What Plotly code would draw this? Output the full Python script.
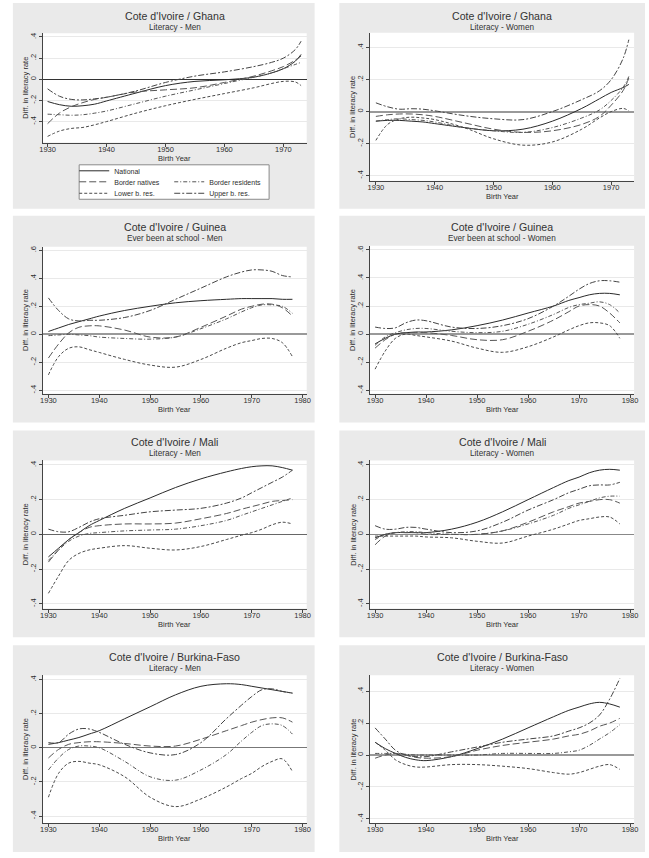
import plotly.graph_objects as go

W, H = 649, 858
FONT = "Liberation Sans, Arial, Helvetica, sans-serif"

# ---------------- data ----------------
SERIES = ["National", "Border natives", "Border residents", "Lower b. res.", "Upper b. res."]

YEARS_GHANA = [1930, 1932, 1934, 1936, 1938, 1940, 1945, 1950, 1955, 1960, 1965, 1968, 1970, 1972, 1973]
YEARS_LONG = [1930, 1932, 1934, 1936, 1938, 1940, 1945, 1950, 1955, 1960, 1965, 1968, 1970, 1972, 1974, 1976, 1978]

# Cote d'Ivoire / Ghana - Literacy - Men
gha_m_national = [-0.21, -0.24, -0.255, -0.25, -0.235, -0.205, -0.13, -0.06, -0.02, -0.005, 0.02, 0.06, 0.1, 0.17, 0.235]
gha_m_natives = [-0.42, -0.32, -0.26, -0.22, -0.19, -0.17, -0.12, -0.1, -0.08, -0.03, 0.03, 0.08, 0.12, 0.18, 0.22]
gha_m_residents = [-0.33, -0.335, -0.34, -0.335, -0.32, -0.3, -0.23, -0.16, -0.1, -0.04, 0.02, 0.06, 0.1, 0.14, 0.16]
gha_m_lower = [-0.54, -0.49, -0.465, -0.455, -0.43, -0.4, -0.32, -0.25, -0.19, -0.135, -0.08, -0.04, -0.02, -0.025, -0.06]
gha_m_upper = [-0.09, -0.16, -0.19, -0.195, -0.185, -0.17, -0.11, -0.03, 0.03, 0.07, 0.12, 0.16, 0.2, 0.28, 0.36]

# Cote d'Ivoire / Ghana - Literacy - Women
gha_w_national = [-0.06, -0.055, -0.055, -0.06, -0.065, -0.075, -0.1, -0.12, -0.11, -0.06, 0.02, 0.08, 0.12, 0.15, 0.17]
gha_w_natives = [-0.03, -0.02, -0.015, -0.015, -0.02, -0.03, -0.07, -0.11, -0.13, -0.12, -0.08, -0.03, 0.04, 0.13, 0.21]
gha_w_residents = [-0.06, -0.05, -0.045, -0.05, -0.055, -0.065, -0.1, -0.12, -0.13, -0.1, -0.04, 0.01, 0.07, 0.15, 0.22]
gha_w_lower = [-0.18, -0.08, -0.045, -0.035, -0.04, -0.05, -0.1, -0.17, -0.21, -0.19, -0.11, -0.04, 0.0, 0.02, 0.005]
gha_w_upper = [0.055, 0.03, 0.015, 0.018, 0.015, 0.005, -0.025, -0.045, -0.05, 0.0, 0.075, 0.13, 0.2, 0.33, 0.45]

# Cote d'Ivoire / Guinea - Ever been at school - Men
gui_m_national = [0.02, 0.045, 0.07, 0.09, 0.11, 0.13, 0.17, 0.2, 0.225, 0.24, 0.25, 0.255, 0.255, 0.255, 0.255, 0.25, 0.25]
gui_m_natives = [-0.17, -0.07, 0.01, 0.05, 0.06, 0.06, 0.03, -0.02, -0.02, 0.05, 0.13, 0.18, 0.2, 0.215, 0.215, 0.19, 0.13]
gui_m_residents = [-0.01, -0.005, 0.0, -0.005, -0.01, -0.02, -0.03, -0.035, -0.02, 0.04, 0.11, 0.16, 0.19, 0.21, 0.21, 0.2, 0.15]
gui_m_lower = [-0.29, -0.16, -0.1, -0.09, -0.11, -0.13, -0.18, -0.22, -0.235, -0.18, -0.1, -0.06, -0.045, -0.03, -0.03, -0.06, -0.16]
gui_m_upper = [0.26, 0.17, 0.11, 0.095, 0.1, 0.1, 0.12, 0.17, 0.25, 0.33, 0.41, 0.445, 0.46, 0.46, 0.45, 0.42, 0.41]

# Cote d'Ivoire / Guinea - Ever been at school - Women
gui_w_national = [-0.07, -0.03, 0.0, 0.01, 0.015, 0.015, 0.03, 0.06, 0.1, 0.15, 0.2, 0.24, 0.26, 0.28, 0.29, 0.29, 0.28]
gui_w_natives = [-0.1, -0.04, 0.0, 0.01, 0.01, 0.01, -0.01, -0.04, -0.04, 0.02, 0.1, 0.16, 0.2, 0.21, 0.2, 0.15, 0.08]
gui_w_residents = [-0.08, -0.02, 0.01, 0.03, 0.04, 0.04, 0.02, 0.01, 0.02, 0.07, 0.14, 0.19, 0.21, 0.22, 0.23, 0.21, 0.15]
gui_w_lower = [-0.25, -0.12, -0.03, 0.0, -0.01, -0.02, -0.05, -0.1, -0.13, -0.09, -0.02, 0.03, 0.06, 0.08, 0.08, 0.06, -0.03]
gui_w_upper = [0.05, 0.04, 0.045, 0.08, 0.1, 0.095, 0.05, 0.04, 0.06, 0.11, 0.2, 0.27, 0.32, 0.36, 0.38, 0.38, 0.37]

# Cote d'Ivoire / Mali - Literacy - Men
mli_m_national = [-0.13, -0.08, -0.03, 0.01, 0.05, 0.08, 0.15, 0.21, 0.27, 0.32, 0.36, 0.38, 0.39, 0.395, 0.395, 0.385, 0.37]
mli_m_natives = [-0.16, -0.09, -0.03, 0.01, 0.04, 0.05, 0.06, 0.06, 0.065, 0.09, 0.12, 0.145, 0.16, 0.175, 0.19, 0.195, 0.2]
mli_m_residents = [-0.15, -0.09, -0.04, -0.01, 0.005, 0.01, 0.02, 0.025, 0.03, 0.05, 0.08, 0.11, 0.13, 0.15, 0.17, 0.19, 0.21]
mli_m_lower = [-0.34, -0.24, -0.15, -0.11, -0.09, -0.08, -0.065, -0.08, -0.09, -0.07, -0.03, -0.005, 0.01, 0.03, 0.055, 0.07, 0.06]
mli_m_upper = [0.03, 0.015, 0.015, 0.04, 0.07, 0.09, 0.11, 0.13, 0.14, 0.15, 0.18, 0.21, 0.24, 0.27, 0.3, 0.33, 0.37]

# Cote d'Ivoire / Mali - Literacy - Women
mli_w_national = [-0.02, 0.0, 0.01, 0.01, 0.01, 0.01, 0.03, 0.07, 0.13, 0.2, 0.27, 0.31, 0.33, 0.355, 0.37, 0.375, 0.37]
mli_w_natives = [-0.06, -0.01, 0.01, 0.01, 0.01, 0.0, 0.0, 0.0, 0.02, 0.07, 0.13, 0.16, 0.18, 0.19, 0.2, 0.2, 0.18]
mli_w_residents = [-0.03, 0.0, 0.01, 0.015, 0.015, 0.01, 0.0, 0.0, 0.02, 0.06, 0.11, 0.15, 0.17, 0.19, 0.21, 0.22, 0.22]
mli_w_lower = [-0.01, -0.01, -0.01, -0.01, -0.01, -0.015, -0.02, -0.04, -0.05, -0.01, 0.03, 0.06, 0.08, 0.09, 0.1, 0.1, 0.06]
mli_w_upper = [0.05, 0.03, 0.03, 0.04, 0.04, 0.03, 0.01, 0.02, 0.07, 0.14, 0.2, 0.24, 0.26, 0.28, 0.285, 0.285, 0.3]

# Cote d'Ivoire / Burkina-Faso - Literacy - Men
bfa_m_national = [0.02, 0.03, 0.045, 0.06, 0.08, 0.1, 0.17, 0.24, 0.31, 0.36, 0.375, 0.37, 0.36, 0.35, 0.34, 0.33, 0.32]
bfa_m_natives = [-0.06, -0.01, 0.02, 0.03, 0.035, 0.035, 0.025, 0.01, 0.01, 0.05, 0.1, 0.13, 0.15, 0.165, 0.175, 0.175, 0.15]
bfa_m_residents = [-0.13, -0.06, -0.01, 0.01, 0.01, 0.0, -0.08, -0.17, -0.19, -0.13, -0.04, 0.04, 0.09, 0.13, 0.14, 0.13, 0.08]
bfa_m_lower = [-0.29, -0.15, -0.09, -0.08, -0.09, -0.1, -0.17, -0.29, -0.345, -0.3, -0.23, -0.18, -0.15, -0.11, -0.08, -0.065, -0.14]
bfa_m_upper = [0.03, 0.03, 0.08, 0.11, 0.11, 0.09, 0.02, -0.03, -0.04, 0.03, 0.17, 0.25, 0.3, 0.34, 0.345, 0.33, 0.32]

# Cote d'Ivoire / Burkina-Faso - Literacy - Women
bfa_w_national = [0.08, 0.04, 0.01, -0.015, -0.03, -0.035, -0.01, 0.04, 0.1, 0.17, 0.24, 0.28, 0.3, 0.32, 0.33, 0.32, 0.3]
bfa_w_natives = [-0.02, 0.0, 0.01, 0.0, -0.015, -0.02, -0.01, 0.03, 0.06, 0.08, 0.1, 0.12, 0.13, 0.15, 0.18, 0.2, 0.23]
bfa_w_residents = [0.01, 0.01, 0.01, 0.005, 0.0, 0.0, 0.0, 0.0, 0.01, 0.01, 0.01, 0.02, 0.03, 0.06, 0.1, 0.14, 0.19]
bfa_w_lower = [0.08, 0.03, -0.03, -0.06, -0.075, -0.075, -0.06, -0.06, -0.07, -0.085, -0.11, -0.12, -0.11, -0.09, -0.07, -0.06, -0.09]
bfa_w_upper = [0.17, 0.1, 0.03, 0.0, -0.01, -0.01, 0.02, 0.05, 0.08, 0.1, 0.12, 0.15, 0.17, 0.2, 0.25, 0.35, 0.48]

TITLES = ["Cote d'Ivoire / Ghana", "Cote d'Ivoire / Ghana",
          "Cote d'Ivoire / Guinea", "Cote d'Ivoire / Guinea",
          "Cote d'Ivoire / Mali", "Cote d'Ivoire / Mali",
          "Cote d'Ivoire / Burkina-Faso", "Cote d'Ivoire / Burkina-Faso"]
SUBTITLES = ["Literacy - Men", "Literacy - Women",
             "Ever been at school - Men", "Ever been at school - Women",
             "Literacy - Men", "Literacy - Women",
             "Literacy - Men", "Literacy - Women"]
PANEL_YEARS = [YEARS_GHANA, YEARS_GHANA] + [YEARS_LONG] * 6
PANEL_DATA = [
    [gha_m_national, gha_m_natives, gha_m_residents, gha_m_lower, gha_m_upper],
    [gha_w_national, gha_w_natives, gha_w_residents, gha_w_lower, gha_w_upper],
    [gui_m_national, gui_m_natives, gui_m_residents, gui_m_lower, gui_m_upper],
    [gui_w_national, gui_w_natives, gui_w_residents, gui_w_lower, gui_w_upper],
    [mli_m_national, mli_m_natives, mli_m_residents, mli_m_lower, mli_m_upper],
    [mli_w_national, mli_w_natives, mli_w_residents, mli_w_lower, mli_w_upper],
    [bfa_m_national, bfa_m_natives, bfa_m_residents, bfa_m_lower, bfa_m_upper],
    [bfa_w_national, bfa_w_natives, bfa_w_residents, bfa_w_lower, bfa_w_upper],
]
X_TICKS_GHANA = [1930, 1940, 1950, 1960, 1970]
X_TICKS_LONG = [1930, 1940, 1950, 1960, 1970, 1980]
Y_TICKS_4 = [-0.4, -0.2, 0, 0.2, 0.4]
Y_TICKS_6 = [-0.4, -0.2, 0, 0.2, 0.4, 0.6]
Y_LABELS = {-0.4: "-.4", -0.2: "-.2", 0: "0", 0.2: ".2", 0.4: ".4", 0.6: ".6"}

# ---------------- layout geometry (pixels) ----------------
GRAY_BOXES = [(10, 2, 315, 208), (340, 2, 649, 208),
              (10, 215, 315, 422), (340, 215, 649, 422),
              (10, 430, 315, 637), (340, 430, 649, 637),
              (10, 645, 315, 852), (340, 645, 649, 852)]
PLOT_BOXES = [(40, 32.3, 307, 141.7), (371, 31.7, 638, 180),
              (40, 246, 307, 393.3), (371, 245, 638, 393.3),
              (40, 460, 307, 608.3), (371, 460, 638, 608.3),
              (40, 675, 307, 823.3), (371, 675, 638, 823.3)]
TITLE_Y = [15, 15, 226.7, 226.7, 442, 442, 657, 657]
Y_RANGES = [[-0.598, 0.435], [-0.433, 0.494],
            [-0.426, 0.626], [-0.426, 0.63],
            [-0.428, 0.426], [-0.428, 0.426],
            [-0.443, 0.425], [-0.428, 0.50]]
X_RANGES = [[1929.15, 1973.95], [1929.0, 1973.9]] + [[1928.85, 1980.8], [1929.0, 1980.8]] * 3
ZERO_STYLE = [("#333333", 1), ("#999999", 1.6), ("#999999", 1.6), ("#999999", 1.6),
              ("#666666", 1), ("#888888", 1.3), ("#777777", 1.2), ("#999999", 1.6)]
DASHES = ["solid", "7px,3px", "4px,2px,1px,2px", "3px,2px", "6px,2px,2px,2px"]
LINE_COLORS = ["#2a2a2a", "#555555", "#555555", "#4a4a4a", "#444444"]
LEGEND_OF = ["legend", "legend2", "legend2", "legend3", "legend3"]
GRAY = "#eaeaea"
TEXT_DARK = "#2e2e2e"


def px_x(v):
    return v / W


def px_y(v):
    return 1 - v / H


fig = go.Figure()
shapes = []
annotations = []

for i in range(8):
    gx0, gy0, gx1, gy1 = GRAY_BOXES[i]
    shapes.append(dict(type="rect", xref="paper", yref="paper", layer="below",
                       x0=px_x(gx0), x1=px_x(gx1), y0=px_y(gy1), y1=px_y(gy0),
                       fillcolor=GRAY, line=dict(width=0)))

for i in range(8):
    sfx = "" if i == 0 else str(i + 1)
    x0, y0, x1, y1 = PLOT_BOXES[i]
    years = PANEL_YEARS[i]
    for k, name in enumerate(SERIES):
        fig.add_trace(go.Scatter(
            x=years, y=PANEL_DATA[i][k], mode="lines", name=name,
            line=dict(color=LINE_COLORS[k], width=1, dash=DASHES[k], shape="spline", smoothing=1.0),
            xaxis="x" + sfx, yaxis="y" + sfx,
            showlegend=(i == 0), legend=LEGEND_OF[k], hoverinfo="skip"))

    yt = Y_TICKS_6 if Y_RANGES[i][1] > 0.55 else Y_TICKS_4
    xt = X_TICKS_GHANA if i < 2 else X_TICKS_LONG
    zc, zw = ZERO_STYLE[i]
    fig.layout["xaxis" + sfx] = dict(
        domain=[px_x(x0), px_x(x1)], range=X_RANGES[i], anchor="y" + sfx,
        tickvals=xt, ticktext=[str(v) for v in xt], showgrid=False, zeroline=False,
        showline=True, linecolor="#444444", linewidth=1,
        ticks="outside", ticklen=3, tickwidth=1, tickcolor="#444444",
        ticklabelstandoff=-4,
        tickfont=dict(size=7.5, family=FONT, color=TEXT_DARK), fixedrange=True)
    fig.layout["yaxis" + sfx] = dict(
        domain=[px_y(y1), px_y(y0)], range=Y_RANGES[i], anchor="x" + sfx,
        tickvals=yt, ticktext=[Y_LABELS[v] for v in yt], tickangle=-90,
        showgrid=True, gridcolor="#e9e9e9", gridwidth=1,
        zeroline=True, zerolinecolor=zc, zerolinewidth=zw,
        showline=True, linecolor="#444444", linewidth=1,
        ticks="outside", ticklen=3, tickwidth=1, tickcolor="#444444",
        tickfont=dict(size=7.5, family=FONT, color=TEXT_DARK), fixedrange=True)

    shapes.append(dict(type="rect", xref="x" + sfx + " domain", yref="y" + sfx + " domain",
                       layer="below", x0=0, x1=1, y0=0, y1=1,
                       fillcolor="white", line=dict(width=0)))

    cx = (x0 + x1) / 2
    annotations.append(dict(text=TITLES[i], x=px_x(cx), y=px_y(TITLE_Y[i]), xref="paper", yref="paper",
                            xanchor="center", yanchor="middle", showarrow=False,
                            font=dict(size=10.6, family=FONT, color="#333333")))
    annotations.append(dict(text=SUBTITLES[i], x=px_x(cx), y=px_y(TITLE_Y[i] + 11.5), xref="paper", yref="paper",
                            xanchor="center", yanchor="middle", showarrow=False,
                            font=dict(size=8.2, family=FONT, color="#333333")))
    annotations.append(dict(text="Birth Year", x=px_x(cx), y=px_y(y1 + 15.5), xref="paper", yref="paper",
                            xanchor="center", yanchor="middle", showarrow=False,
                            font=dict(size=7.5, family=FONT, color=TEXT_DARK)))
    annotations.append(dict(text="Diff. in literacy rate", x=px_x(x0 - 17), y=px_y((y0 + y1) / 2),
                            xref="paper", yref="paper", textangle=-90,
                            xanchor="center", yanchor="middle", showarrow=False,
                            font=dict(size=7.5, family=FONT, color=TEXT_DARK)))

# legend frame (panel 1)
shapes.append(dict(type="rect", xref="paper", yref="paper", layer="below",
                   x0=px_x(77), x1=px_x(269), y0=px_y(198.5), y1=px_y(164),
                   fillcolor="white", line=dict(color="#8a8a8a", width=1)))

leg_common = dict(orientation="h", bgcolor="rgba(0,0,0,0)", borderwidth=0,
                  font=dict(size=7, family=FONT, color=TEXT_DARK),
                  xanchor="left", yanchor="middle", itemwidth=30,
                  entrywidthmode="pixels", entrywidth=50, tracegroupgap=0,
                  itemclick=False, itemdoubleclick=False)

fig.update_layout(
    width=W, height=H, autosize=False,
    margin=dict(l=0, r=0, t=0, b=0, pad=0),
    paper_bgcolor="white", plot_bgcolor="white",
    font=dict(family=FONT, size=8, color=TEXT_DARK),
    shapes=shapes, annotations=annotations,
    legend=dict(x=px_x(72), y=px_y(170), **leg_common),
    legend2=dict(x=px_x(72), y=px_y(181), **leg_common),
    legend3=dict(x=px_x(72), y=px_y(192.5), **leg_common),
    hovermode=False,
)

fig.write_html("out.html")
